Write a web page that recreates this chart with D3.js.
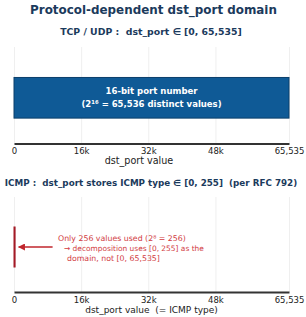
<!DOCTYPE html>
<html>
<head>
<meta charset="utf-8">
<script src="https://cdn.jsdelivr.net/npm/d3@7"></script>
<style>
  body { margin: 0; background: #fff; }
  svg { font-family: "DejaVu Sans", sans-serif; }
</style>
</head>
<body>
<svg id="chart" width="306" height="317"></svg>
<script>
// Data
const tickValues = [0, 16000, 32000, 48000, 65535];
const tickLabels = ["0", "16k", "32k", "48k", "65,535"];
const panelRanges = [[0, 65535], [0, 255]];
const barLabels = ["16-bit port number", "(2\u00B9\u2076 = 65,536 distinct values)"];
const noteLines = ["Only 256 values used (2\u2078 = 256)", "\u2192 decomposition uses [0, 255] as the", "domain, not [0, 65,535]"];

const navy = "#1b3a5c";
const svg = d3.select("#chart");

// shrink or grow a text so it covers the width it has in the picture
function fitWidth(sel, w) {
  const fs = +sel.attr("font-size");
  const len = sel.node().getComputedTextLength();
  sel.attr("font-size", (fs * w / len).toFixed(2));
  return sel;
}

const x = d3.scaleLinear()
  .domain([0, 65535])
  .range([14, 289]);

svg.append("text")
  .attr("x", 153.5)
  .attr("y", 13.5)
  .attr("text-anchor", "middle")
  .attr("font-size", 12)
  .attr("font-weight", "bold")
  .attr("fill", navy)
  .text("Protocol-dependent dst_port domain")
  .call(s => fitWidth(s, 247));

const panels = [
  { top: 47, bottom: 143.5, sub: 35, subX: 151, subW: 182, subText: "TCP / UDP :  dst_port \u2208 [0, 65,535]",
    xlabel: "dst_port value", labX: 139 },
  { top: 197, bottom: 292, sub: 186, subX: 151, subW: 293, subText: "ICMP :  dst_port stores ICMP type \u2208 [0, 255]  (per RFC 792)",
    xlabel: "dst_port value  (= ICMP type)", labX: 151.5 }
];

panels.forEach((p, i) => {
  const y = d3.scaleLinear()
    .domain([-0.9, 1.0])
    .range([p.bottom, p.top]);

  const g = svg.append("g");

  g.append("text")
    .attr("x", p.subX)
    .attr("y", p.sub)
    .attr("text-anchor", "middle")
    .attr("font-size", 9.5)
    .attr("font-weight", "bold")
    .attr("fill", navy)
    .attr("xml:space", "preserve")
    .text(p.subText)
    .call(s => fitWidth(s, p.subW));

  // grid
  g.append("g")
    .attr("transform", `translate(0, ${p.bottom})`)
    .call(d3.axisBottom(x)
      .tickValues(tickValues)
      .tickSize(-(p.bottom - p.top))
      .tickFormat(""))
    .call(a => a.select(".domain").remove())
    .call(a => a.selectAll("line").attr("stroke", "#ebebeb").attr("stroke-width", 0.8));

  const r = panelRanges[i];
  g.append("rect")
    .attr("x", x(r[0]))
    .attr("y", y(0.4))
    .attr("width", Math.max(x(r[1]) - x(r[0]), 1))
    .attr("height", y(-0.4) - y(0.4))
    .attr("fill", i == 0 ? "#0f5a96" : "#b01e2a")
    .attr("stroke", i == 0 ? "#0b3f6b" : "#a01a25")
    .attr("stroke-width", 1);

  // axis
  const ax = g.append("g")
    .attr("transform", `translate(0, ${p.bottom})`)
    .call(d3.axisBottom(x)
      .tickValues(tickValues)
      .tickSize(0)
      .tickPadding(4.5)
      .tickFormat((d, k) => tickLabels[k]));
  ax.select(".domain").attr("stroke", "#333").attr("stroke-width", 2);
  ax.selectAll("text")
    .attr("font-family", "DejaVu Sans")
    .attr("font-size", 8.5)
    .attr("fill", "#222");

  g.append("text")
    .attr("x", p.labX)
    .attr("y", p.bottom + 20.5)
    .attr("text-anchor", "middle")
    .attr("font-size", i == 0 ? 9.6 : 9)
    .attr("fill", "#222")
    .attr("xml:space", "preserve")
    .text(p.xlabel);

  if (i == 0) {
    const barW = [92, 140];
    barLabels.forEach((t, k) => {
      g.append("text")
        .attr("x", x(32768))
        .attr("y", y(0) + (k == 0 ? -4 : 9.5))
        .attr("text-anchor", "middle")
        .attr("font-size", 8.6)
        .attr("font-weight", "bold")
        .attr("fill", "#fff")
        .text(t)
        .call(s => fitWidth(s, barW[k]));
    });
  } else {
    svg.append("defs").append("marker")
      .attr("id", "head")
      .attr("viewBox", "0 0 10 10")
      .attr("refX", 9)
      .attr("refY", 5)
      .attr("markerWidth", 5)
      .attr("markerHeight", 5)
      .attr("orient", "auto")
      .append("path")
      .attr("d", "M0,0 L10,5 L0,10 z")
      .attr("fill", "#c0262d");

    g.append("line")
      .attr("x1", x(9200))
      .attr("y1", y(0))
      .attr("x2", x(1100))
      .attr("y2", y(0))
      .attr("stroke", "#c0262d")
      .attr("stroke-width", 1.4)
      .attr("marker-end", "url(#head)");

    const noteX = [58, 64, 67];
    const noteW = [128, 140, 93];
    noteLines.forEach((t, k) => {
      g.append("text")
        .attr("x", noteX[k])
        .attr("y", y(0) - 6 + k * 10)
        .attr("font-size", 9)
        .attr("fill", "#d23c3f")
        .text(t)
        .call(s => fitWidth(s, noteW[k]));
    });
  }
});
</script>
</body>
</html>
